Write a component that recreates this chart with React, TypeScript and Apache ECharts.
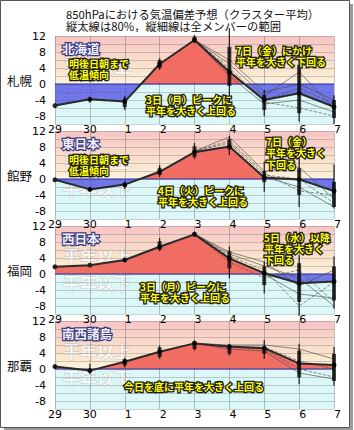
import React, { useEffect, useRef } from "react";
import * as echarts from "echarts";

const days = ["29", "30", "1", "2", "3", "4", "5", "6", "7"];
const stations = ["札幌", "館野", "福岡", "那覇"];
const regions = ["北海道", "東日本", "西日本", "南西諸島"];
const titleLines = [
  "850hPaにおける気温偏差予想（クラスター平均）",
  "縦太線は80%，縦細線は全メンバーの範囲",
];
const aboveNormal = "平年以上";
const belowNormal = "平年以下";

// 札幌
const sapporoMean = [-5.4, -3.8, -4.4, 5, 11, 3, -4, -2.3, -5.7];
const sapporoMax = [null, -3.3, -3, 6.5, 12.3, 14, -1.5, 7.3, -2.8];
const sapporoMin = [null, -4.6, -6.5, 3.5, 10.2, -5.5, -8, -9.4, -10];
const sapporoHi80 = [null, -3.6, -3.6, 6, 11.8, 9.3, -2.8, 4.8, -4];
const sapporoLo80 = [null, -4.3, -5.8, 4, 10.5, -0.5, -6.5, -7.3, -8.5];
const sapporoMembers = [
  [null, null, null, null, 11, 5, -3, 3, -6],
  [null, null, null, null, 11, 4, -4, -1, -5],
  [null, null, null, null, 11, 2, -5, -4, -7],
  [null, null, null, null, 11, 3.5, -4.5, -6, -8],
  [null, null, null, null, 11, 6, -2, 0, -4],
];

// 館野
const tatenoMean = [-0.2, -2.6, -1.4, 1.8, 6.7, 8.1, 0.4, -0.1, -3];
const tatenoMax = [null, -2, -0.5, 3.5, 9, 10.8, 4.4, 6.5, 3.6];
const tatenoMin = [null, -3.2, -2.5, 0.5, 5, 6, -3.2, -7, -7.4];
const tatenoHi80 = [null, -2.3, -1, 2.8, 8.2, 10, 2, 2.7, -0.7];
const tatenoLo80 = [null, -2.9, -2, 1, 5.5, 7.4, -0.8, -4, -7];
const tatenoMembers = [
  [null, null, null, null, 7, 10.5, 2, 3, -5],
  [null, null, null, null, 7, 9, 1, 0, -6],
  [null, null, null, null, 7, 8, 0.5, -2, -7],
  [null, null, null, null, 7, 9.5, 1.5, -3, -4],
];

// 福岡
const fukuokaMean = [1.8, 2.2, 3.5, 6.8, 9.9, 3.9, 0.2, -2.3, -1.9];
const fukuokaMax = [null, null, 4, 9, 10.6, 6.9, 3.1, 4.8, 4.4];
const fukuokaMin = [null, null, 3, 5.7, 9.4, -1.1, -4.9, -10.5, -8.7];
const fukuokaHi80 = [null, null, 3.8, 8.2, 10.4, 5.7, 1.9, 2.7, 1.9];
const fukuokaLo80 = [null, null, 3.2, 6.1, 9.6, 1.4, -2.8, -7, -6.6];
const fukuokaMembers = [
  [null, null, null, null, 10, 5, 2, -1, -8],
  [null, null, null, null, 10, 4.5, 1, -8, -2],
  [null, null, null, null, 10, 4, 0, -5, -6],
  [null, null, null, null, 10, 3, -1, 1, -7],
  [null, null, null, null, 10, 5.5, 3, -3, 1],
];

// 那覇
const nahaMean = [0.6, -0.4, 1.8, 4.3, 6.4, 5.6, 5.2, 1.4, 1];
const nahaMax = [0.9, 1.3, 2.9, 5.9, 7.2, 6.3, 7.2, 6.3, 5.5];
const nahaMin = [0.2, -1.3, 0.4, 2.5, 4.6, 3.4, 2.5, -3.8, -4.2];
const nahaHi80 = [null, -0.2, 2.5, 5.4, 6.9, 6, 5.5, 4.6, 3.8];
const nahaLo80 = [null, -0.8, 0.9, 3, 5, 3.8, 3.8, -2.1, -3];
const nahaMembers = [
  [null, null, null, null, 6.4, 6, 6, 5, 2.5],
  [null, null, null, null, 6.4, 5.5, 5, 0, -2],
  [null, null, null, null, 6.4, 5, 4.5, -1, -2.5],
  [null, null, null, null, 6.4, 5.5, 5.5, 2, 0],
];

const means = [sapporoMean, tatenoMean, fukuokaMean, nahaMean];
const maxes = [sapporoMax, tatenoMax, fukuokaMax, nahaMax];
const mins = [sapporoMin, tatenoMin, fukuokaMin, nahaMin];
const hi80s = [sapporoHi80, tatenoHi80, fukuokaHi80, nahaHi80];
const lo80s = [sapporoLo80, tatenoLo80, fukuokaLo80, nahaLo80];
const members = [sapporoMembers, tatenoMembers, fukuokaMembers, nahaMembers];

// annotations: [panel, text, left, top]
const notes: [number, string, number, number][] = [
  [0, "明後日朝まで\n低温傾向", 69, 57.5],
  [0, "3日（月）ピークに\n平年を大きく上回る", 146, 94],
  [0, "7日（金）にかけ\n平年を大きく下回る", 236, 45],
  [1, "明後日朝まで\n低温傾向", 69, 154],
  [1, "7日（金）\n平年を大きく\n下回る", 266, 136],
  [1, "4日（火）ピークに\n平年を大きく上回る", 158, 185],
  [2, "5日（水）以降\n平年を大きく\n下回る", 264, 231.7],
  [2, "3日（月）ピークに\n平年を大きく上回る", 140, 281],
  [3, "今日を底に平年を大きく上回る", 124, 381],
];

const panelTop = [36, 131, 226, 321];
const panelH = 88;
const YMIN = -10;
const YMAX = 12;
const CJK = '"Noto Sans CJK JP", "Noto Sans CJK SC", sans-serif';

// split a series into its part above zero and its part below zero (with zero crossings)
function splitAtZero(vals: number[]) {
  const pos: number[][] = [];
  const neg: number[][] = [];
  vals.forEach((v, k) => {
    if (k > 0) {
      const p = vals[k - 1];
      if ((p > 0 && v < 0) || (p < 0 && v > 0)) {
        const xc = k - 1 + p / (p - v);
        pos.push([xc, 0]);
        neg.push([xc, 0]);
      }
    }
    pos.push([k, Math.max(v, 0)]);
    neg.push([k, Math.min(v, 0)]);
  });
  return { pos, neg };
}

const pairs = (arr: (number | null)[]) => arr.map((v, k) => [k, v == null ? "-" : v]);

export default function App() {
  const ref = useRef<HTMLDivElement>(null);
  useEffect(() => {
    if (!ref.current) return;
    const chart = echarts.init(ref.current, null, { renderer: "svg" });
    const last = days.length - 1;

    const grids = panelTop.map((t) => ({ left: 55, right: 20, top: t, height: panelH }));
    const xAxes = panelTop.map((_, i) => ({
      type: "value",
      gridIndex: i,
      min: 0,
      max: last,
      interval: 1,
      axisLine: { show: false },
      axisTick: { show: false },
      axisLabel: {
        margin: 0,
        formatter: (v: number) => "{a|" + (days[v] ?? "") + "}",
        rich: { a: { width: 14, align: "right", fontSize: 11, fontFamily: "DejaVu Sans", color: "#000" } },
      },
      splitLine: { show: true, lineStyle: { color: "rgba(80,80,80,0.45)", width: 0.8 } },
      z: 1,
    }));
    const yAxes = panelTop.map((_, i) => ({
      type: "value",
      gridIndex: i,
      min: YMIN,
      max: YMAX,
      interval: 2,
      axisLine: { show: false },
      axisTick: { show: false },
      axisLabel: {
        margin: 9,
        fontSize: 11,
        fontFamily: "DejaVu Sans",
        color: "#000",
        formatter: (v: number) => (v % 4 === 0 ? String(v) : ""),
      },
      splitLine: { show: true, lineStyle: { color: "rgba(90,90,90,0.28)", width: 1 } },
      z: 1,
    }));

    const series: any[] = [];
    for (let i = 0; i < 4; i++) {
      const c = { xAxisIndex: i, yAxisIndex: i };
      series.push({
        type: "custom", ...c, z: 0, silent: true, clip: false,
        data: [[0, 0]],
        renderItem: (params: any, api: any) => {
          const tl = api.coord([0, YMAX]);
          const mid = api.coord([last, 0]);
          const br = api.coord([last, YMIN]);
          const warm = new echarts.graphic.LinearGradient(0, 0, 0, 1, [
            { offset: 0, color: "#f7c4c4" },
            { offset: 0.35, color: "#f8d5c9" },
            { offset: 0.7, color: "#fae5cc" },
            { offset: 1, color: "#fcf3dc" },
          ]);
          return {
            type: "group",
            children: [
              { type: "rect", shape: { x: tl[0], y: tl[1], width: mid[0] - tl[0], height: mid[1] - tl[1] }, style: { fill: warm } },
              { type: "rect", shape: { x: tl[0], y: mid[1], width: br[0] - tl[0], height: br[1] - mid[1] }, style: { fill: "#dcf7f7" } },
            ],
          };
        },
      });
      const { pos, neg } = splitAtZero(means[i]);
      series.push({
        type: "line", ...c, data: pos, z: 2, silent: true,
        symbol: "none", showSymbol: false,
        lineStyle: { width: 0 },
        areaStyle: { color: "rgba(240,100,90,0.93)", opacity: 1, origin: 0 },
      });
      series.push({
        type: "line", ...c, data: neg, z: 2, silent: true,
        symbol: "none", showSymbol: false,
        lineStyle: { width: 0 },
        areaStyle: { color: "rgba(70,70,226,0.72)", opacity: 1, origin: 0 },
      });
      series.push({
        type: "custom", ...c, z: 3, silent: true, clip: false,
        data: [[0, 0]],
        renderItem: (params: any, api: any) => {
          const a = api.coord([0, 0]);
          const b = api.coord([last, 0]);
          return { type: "line", shape: { x1: a[0], y1: a[1], x2: b[0], y2: b[1] }, style: { stroke: "#2b2ba6", lineWidth: 1.2 } };
        },
      });
      members[i].forEach((m, k) => {
        series.push({
          type: "line", ...c, data: pairs(m), z: 3, silent: true,
          symbol: "none", showSymbol: false,
          lineStyle: { color: "#444", width: 0.8, type: k % 2 ? "dashed" : "solid", opacity: 0.75 },
        });
      });
      series.push({
        type: "line", ...c, data: pairs(means[i]), z: 4, silent: true,
        symbol: "circle", symbolSize: 5,
        itemStyle: { color: "#222" },
        lineStyle: { color: "#2a2a2a", width: 2 },
      });
      const barData: any[] = [];
      days.forEach((_, k) => {
        if (maxes[i][k] == null) return;
        barData.push([k, maxes[i][k], mins[i][k], hi80s[i][k] ?? "-", lo80s[i][k] ?? "-"]);
      });
      series.push({
        type: "custom", ...c, z: 5, silent: true, clip: false,
        data: barData,
        encode: { x: 0, y: [1, 2] },
        renderItem: (params: any, api: any) => {
          const x = api.value(0);
          const a = api.coord([x, api.value(1)]);
          const b = api.coord([x, api.value(2)]);
          const children: any[] = [
            {
              type: "line",
              shape: { x1: a[0], y1: a[1], x2: b[0], y2: b[1] },
              style: { stroke: "rgba(0,0,0,0.8)", lineWidth: 1.3 },
            },
          ];
          const h = api.value(3);
          const l = api.value(4);
          if (typeof h === "number" && !isNaN(h) && typeof l === "number" && !isNaN(l)) {
            const p = api.coord([x, h]);
            const q = api.coord([x, l]);
            children.push({
              type: "rect",
              shape: { x: p[0] - 2, y: p[1], width: 4, height: Math.max(1, q[1] - p[1]) },
              style: { fill: "rgba(0,0,0,0.72)" },
            });
          }
          return { type: "group", children };
        },
      });
    }

    const graphics: any[] = [];
    graphics.push({ type: "rect", shape: { x: 350, y: 4, width: 3, height: 426 }, style: { fill: "#9a9a9a" }, silent: true });
    graphics.push({ type: "rect", shape: { x: 4, y: 428, width: 349, height: 2 }, style: { fill: "#9a9a9a" }, silent: true });
    graphics.push({ type: "rect", shape: { x: 0.5, y: 0.5, width: 349, height: 427 }, style: { fill: "none", stroke: "#555", lineWidth: 1 }, silent: true });
    titleLines.forEach((t, k) => {
      graphics.push({
        type: "text", x: 66, y: 14 + k * 12, silent: true,
        style: { text: t, fill: "#111", font: `11.3px ${CJK}`, verticalAlign: "middle", align: "left" },
      });
    });
    for (let i = 0; i < 4; i++) {
      const zeroY = panelTop[i] + panelH * (YMAX / (YMAX - YMIN));
      graphics.push({
        type: "text", x: 7, y: zeroY - 4, silent: true,
        style: { text: stations[i], fill: "#111", font: `12.5px ${CJK}`, verticalAlign: "middle", align: "left" },
      });
      graphics.push({
        type: "text", x: 63, y: zeroY - 19, silent: true, z: 1,
        style: { text: aboveNormal, fill: "rgba(255,255,255,0.8)", stroke: "rgba(150,150,150,0.4)", lineWidth: 1, font: `bold 17px ${CJK}`, verticalAlign: "middle", align: "left" },
      });
      graphics.push({
        type: "text", x: 63, y: zeroY + 8, silent: true, z: 1,
        style: { text: belowNormal, fill: "rgba(255,255,255,0.8)", stroke: "rgba(150,150,150,0.4)", lineWidth: 1, font: `bold 17px ${CJK}`, verticalAlign: "middle", align: "left" },
      });
      graphics.push({
        type: "text", x: 62, y: panelTop[i] + 12.5, silent: true, z: 10,
        style: { text: regions[i], fill: "#eeeeff", stroke: "#3a3a78", lineWidth: 2.4, strokeFirst: true, font: `bold 12.5px ${CJK}`, verticalAlign: "middle", align: "left" },
      });
    }
    notes.forEach(([, text, x, y]) => {
      graphics.push({
        type: "text", x, y, silent: true, z: 10,
        style: { text, fill: "#ffff00", stroke: "#1a1a1a", lineWidth: 2.6, strokeFirst: true, font: `bold 10px ${CJK}`, lineHeight: 11.3, verticalAlign: "top", align: "left" },
      });
    });

    chart.setOption({
      animation: false,
      backgroundColor: "#fff",
      grid: grids,
      xAxis: xAxes,
      yAxis: yAxes,
      series,
      graphic: { elements: graphics },
    });
    return () => chart.dispose();
  }, []);
  return (
    <div
      ref={ref}
      style={{ position: "absolute", left: 0, top: 0, width: 354, height: 430 }}
    />
  );
}
